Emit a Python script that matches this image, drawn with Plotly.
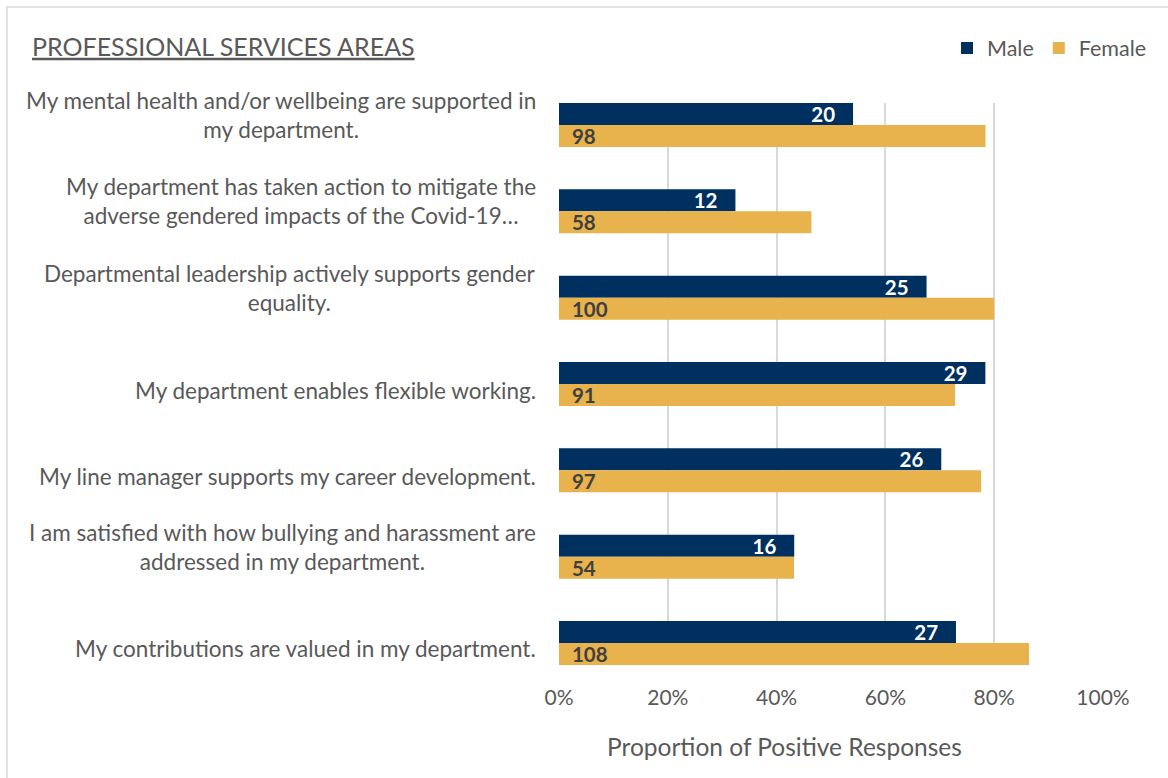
import plotly.graph_objects as go

# Survey statements, top to bottom
statements = [
    "My mental health and/or wellbeing are supported in<br>my department.",
    "My department has taken action to mitigate the<br>adverse gendered impacts of the Covid-19…",
    "Departmental leadership actively supports gender<br>equality.",
    "My department enables flexible working.",
    "My line manager supports my career development.",
    "I am satisfied with how bullying and harassment are<br>addressed in my department.",
    "My contributions are valued in my department.",
]

# Positive-response counts and number of respondents per group
male_counts = [20, 12, 25, 29, 26, 16, 27]
female_counts = [98, 58, 100, 91, 97, 54, 108]
male_total = 37
female_total = 125

x_ticks = [0, 0.2, 0.4, 0.6, 0.8, 1.0]

MALE_COLOR = "#00305F"
FEMALE_COLOR = "#E8B24C"
TEXT_GREY = "#595959"
FONT = "Lato"

male_share = [c / male_total for c in male_counts]
female_share = [c / female_total for c in female_counts]

W, H = 1168, 778
L, R, T, B = 559, 65, 103, 113
plot_w, plot_h = W - L - R, H - T - B

def px_x(px):
    return (px - L) / plot_w

def px_y(py):
    return (H - B - py) / plot_h

pad_end = "\u00a0" * 3
pad_start = "\u00a0" * 2

fig = go.Figure()
fig.add_trace(go.Bar(
    y=statements, x=male_share, orientation="h", name="Male",
    marker=dict(color=MALE_COLOR, line=dict(width=0)),
    text=[f"{c}{pad_end}" for c in male_counts], textposition="inside",
    insidetextanchor="end", constraintext="none",
    textfont=dict(family=FONT, size=20.5, color="white", weight="bold"),
    hoverinfo="skip",
))
fig.add_trace(go.Bar(
    y=statements, x=female_share, orientation="h", name="Female",
    marker=dict(color=FEMALE_COLOR, line=dict(width=0)),
    text=[f"{pad_start}{c}" for c in female_counts], textposition="inside",
    insidetextanchor="start", constraintext="none",
    textfont=dict(family=FONT, size=20.5, color="#404040", weight="bold"),
    hoverinfo="skip",
))

annotations = []
for s in statements:
    two_lines = "<br>" in s
    annotations.append(dict(
        x=0, xref="paper", y=s, yref="y", text=s, showarrow=False,
        xanchor="right", yanchor="middle", align="center", xshift=-21,
        yshift=10 if two_lines else -6,
        font=dict(family=FONT, size=22.5, color=TEXT_GREY),
    ))
annotations.append(dict(
    x=px_x(784), xref="paper", y=px_y(746), yref="paper",
    text="Proportion of Positive Responses", showarrow=False,
    xanchor="center", yanchor="middle",
    font=dict(family=FONT, size=24.5, color=TEXT_GREY),
))

fig.update_layout(
    width=W, height=H,
    margin=dict(l=L, r=R, t=T, b=B),
    paper_bgcolor="white", plot_bgcolor="white",
    barmode="group", bargap=0.49, bargroupgap=0,
    font=dict(family=FONT, color=TEXT_GREY),
    title=dict(
        text="<u>PROFESSIONAL SERVICES AREAS</u>",
        x=32 / W, xref="container", xanchor="left",
        y=1 - 47 / H, yref="container", yanchor="middle",
        font=dict(family=FONT, size=25, color=TEXT_GREY),
    ),
    legend=dict(
        orientation="h", xref="container", yref="container",
        x=1152 / W, xanchor="right", y=1 - 48 / H, yanchor="middle",
        font=dict(family=FONT, size=21.5, color=TEXT_GREY),
        itemwidth=30, bgcolor="rgba(0,0,0,0)",
    ),
    xaxis=dict(
        range=[0, 1], tickvals=x_ticks, tickformat=".0%",
        showgrid=True, gridcolor="#D9D9D9", gridwidth=1.5,
        zeroline=False, showline=False,
        ticks="outside", ticklen=14, tickcolor="rgba(0,0,0,0)",
        tickfont=dict(family=FONT, size=21, color=TEXT_GREY),
        fixedrange=True,
    ),
    yaxis=dict(
        range=[6.255, -0.255], showticklabels=False, showgrid=False,
        zeroline=False, showline=False, fixedrange=True,
    ),
    annotations=annotations,
    shapes=[dict(
        type="rect", xref="paper", yref="paper",
        x0=px_x(7), x1=px_x(1180), y0=px_y(795), y1=px_y(7),
        line=dict(color="#D9D9D9", width=1.5), layer="below",
    )],
)

fig.write_html("out.html")
